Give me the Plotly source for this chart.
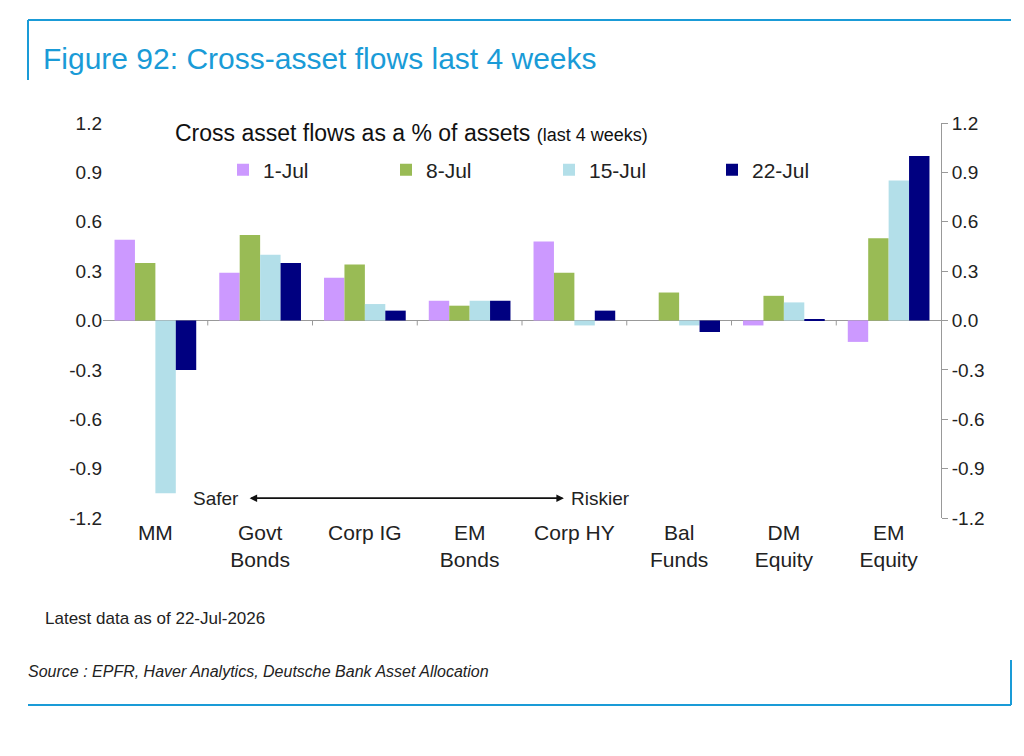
import plotly.graph_objects as go

categories = ["MM", "Govt<br>Bonds", "Corp IG", "EM<br>Bonds", "Corp HY", "Bal<br>Funds", "DM<br>Equity", "EM<br>Equity"]
jul_1 = [0.49, 0.29, 0.26, 0.12, 0.48, 0.0, -0.03, -0.13]
jul_8 = [0.35, 0.52, 0.34, 0.09, 0.29, 0.17, 0.15, 0.50]
jul_15 = [-1.05, 0.40, 0.10, 0.12, -0.03, -0.03, 0.11, 0.85]
jul_22 = [-0.30, 0.35, 0.06, 0.12, 0.06, -0.07, 0.005, 1.00]
series_names = ["1-Jul", "8-Jul", "15-Jul", "22-Jul"]
colors = ["#cc99ff", "#99bb55", "#b3dfe9", "#000080"]
tick_vals = [-1.2, -0.9, -0.6, -0.3, 0.0, 0.3, 0.6, 0.9, 1.2]

FONT = "Liberation Sans, Arial, sans-serif"
BLUE = "#1a9bd7"
L, T, R, B = 95, 115, 933, 510


def px(x):
    return (x - L) / (R - L)


def py(y):
    return (B - y) / (B - T)


fig = go.Figure()
for name, vals, col in zip(series_names, [jul_1, jul_8, jul_15, jul_22], colors):
    fig.add_trace(go.Bar(x=categories, y=vals, name=name, marker_color=col, marker_line_width=0))
# invisible trace for right axis
fig.add_trace(go.Scatter(x=categories, y=jul_22, yaxis="y2", mode="markers",
                         marker_opacity=0, showlegend=False, hoverinfo="skip"))

ticktext = [f"{v:.1f}" for v in tick_vals]
fig.update_layout(
    width=1024, height=756, paper_bgcolor="white", plot_bgcolor="white",
    margin=dict(l=L, r=1024 - R, t=T, b=756 - B),
    font=dict(family=FONT, size=19, color="#222"),
    barmode="group", bargap=0.22, bargroupgap=0,
    xaxis=dict(showline=False, ticks="", tickfont=dict(size=21), showgrid=False, automargin=False),
    yaxis=dict(range=[-1.2, 1.2], tickvals=tick_vals, ticktext=ticktext, showgrid=False, automargin=False,
               zeroline=True, zerolinecolor="#999", zerolinewidth=1, ticks="", showline=False),
    yaxis2=dict(range=[-1.2, 1.2], tickvals=tick_vals, ticktext=ticktext, overlaying="y",
                side="right", showline=True, linecolor="#999", ticks="outside", automargin=False,
                tickcolor="#999", ticklen=6, showgrid=False, zeroline=False),
    legend=dict(orientation="h", x=px(215), y=py(162), xanchor="left", yanchor="middle",
                font=dict(size=21), itemwidth=30, entrywidth=118, entrywidthmode="pixels",
                bgcolor="rgba(0,0,0,0)", traceorder="normal"),
)

# category separator ticks on zero line
for i in range(len(categories) - 1):
    fig.add_shape(type="line", x0=i + 0.5, x1=i + 0.5, y0=0, y1=-0.03, xref="x", yref="y",
                  line=dict(color="#999", width=1))

fig.add_annotation(x=px(165), y=py(125), xref="paper", yref="paper", xanchor="left", yanchor="middle",
                   showarrow=False,
                   text="Cross asset flows as a % of assets <span style='font-size:18px'>(last 4 weeks)</span>",
                   font=dict(size=23, color="#111"))
fig.add_annotation(x=0.9, y=-1.08, ax=3.9, ay=-1.08, xref="x", yref="y", axref="x", ayref="y",
                   text="", showarrow=True, arrowhead=2, arrowsize=1, arrowwidth=1.5, arrowcolor="#111")
fig.add_annotation(x=3.9, y=-1.08, ax=0.9, ay=-1.08, xref="x", yref="y", axref="x", ayref="y",
                   text="", showarrow=True, arrowhead=2, arrowsize=1, arrowwidth=1.5, arrowcolor="#111")
fig.add_annotation(x=0.82, y=-1.08, xref="x", yref="y", xanchor="right", showarrow=False,
                   text="Safer", font=dict(size=19))
fig.add_annotation(x=3.95, y=-1.08, xref="x", yref="y", xanchor="left", showarrow=False,
                   text="Riskier", font=dict(size=19))
fig.add_annotation(x=px(35), y=py(610), xref="paper", yref="paper", xanchor="left",
                   yanchor="middle", showarrow=False, text="Latest data as of 22-Jul-2026",
                   font=dict(size=17))

# header and footer
fig.add_annotation(x=px(33), y=py(50), xref="paper", yref="paper", xanchor="left",
                   yanchor="middle", showarrow=False, text="Figure 92: Cross-asset flows last 4 weeks",
                   font=dict(size=30, color=BLUE))
fig.add_annotation(x=px(18), y=py(663), xref="paper", yref="paper", xanchor="left",
                   yanchor="middle", showarrow=False,
                   text="<i>Source : EPFR, Haver Analytics, Deutsche Bank Asset Allocation</i>",
                   font=dict(size=16))
for x0, y0, x1, y1 in [(20, 12, 1003, 12), (20, 12, 20, 72), (20, 697, 1003, 697), (1003, 652, 1003, 697)]:
    fig.add_shape(type="line", xref="paper", yref="paper",
                  x0=px(x0), x1=px(x1), y0=py(y0), y1=py(y1),
                  line=dict(color=BLUE, width=2))

fig.write_html("out.html")
